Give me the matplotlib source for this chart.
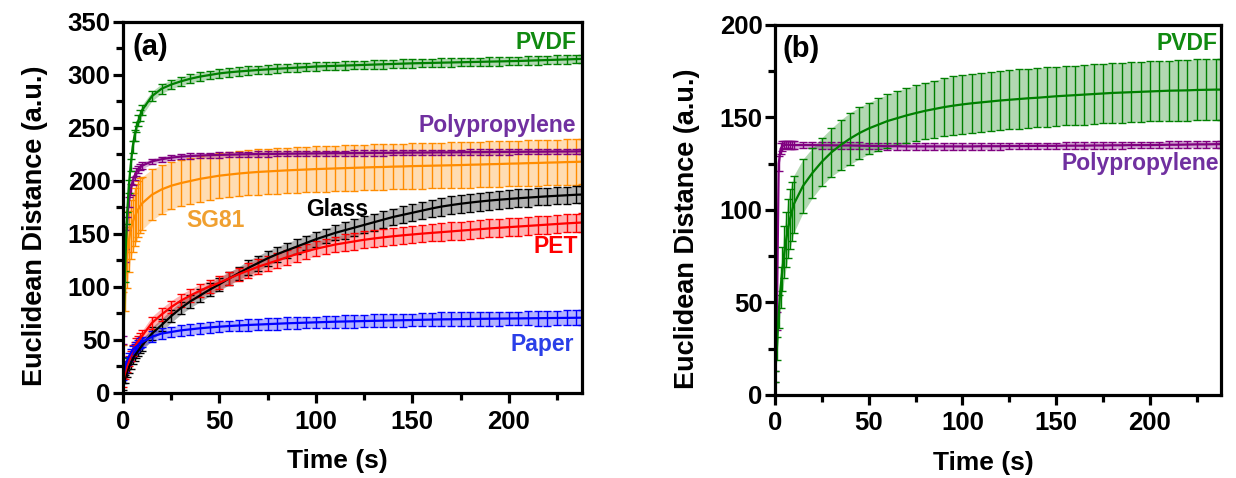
import matplotlib
matplotlib.use("Agg")
import numpy as np
import matplotlib.pyplot as plt
from matplotlib.ticker import MultipleLocator

plt.rcParams['font.family'] = ['Liberation Sans', 'DejaVu Sans']
plt.rcParams['font.weight'] = 'bold'

# time points (s)
t = [0, 1, 2, 3, 4, 5, 6, 7, 8, 9, 10,
     15, 20, 25, 30, 35, 40, 45, 50, 55, 60,
     65, 70, 75, 80, 85, 90, 95, 100, 105, 110,
     115, 120, 125, 130, 135, 140, 145, 150, 155, 160,
     165, 170, 175, 180, 185, 190, 195, 200, 205, 210,
     215, 220, 225, 230, 235, 238]

# ---- panel (a) ----
pvdf_a = [30, 110, 165, 195, 215, 232, 243, 251, 257, 262, 267,
          280, 287, 291, 294, 296.5, 298.5, 300, 301.5, 302.5, 303.3,
          304, 304.7, 305.3, 305.9, 306.4, 306.9, 307.4, 308, 308.3, 308.6,
          308.9, 309.2, 309.5, 309.8, 310.1, 310.4, 310.7, 311, 311.2, 311.4,
          311.6, 311.8, 312, 312.2, 312.4, 312.6, 312.8, 313, 313.2, 313.5,
          313.8, 314.1, 314.4, 314.7, 315, 315.2]
pvdf_a_err = [3, 5, 6, 6, 6, 6, 5.5, 5, 5, 5, 5,
              4.5, 4.5, 4, 4, 4, 4, 4, 4, 4, 4,
              4, 4, 4, 4, 4, 4, 4, 4, 4, 4,
              4, 4, 4, 4, 4, 4, 4, 4, 4, 4,
              4, 4, 4, 4, 4, 4, 4, 4, 4, 4,
              4, 4, 4, 4, 4, 4]

pp_a = [50, 130, 160, 180, 192, 200, 205, 208.5, 211, 213, 214.5,
        218.5, 220.5, 222, 223, 223.5, 224, 224.3, 224.6, 224.8, 225,
        225.2, 225.4, 225.5, 225.6, 225.7, 225.8, 225.9, 226, 226.1, 226.2,
        226.2, 226.3, 226.4, 226.5, 226.5, 226.6, 226.7, 226.8, 226.8, 226.9,
        227, 227, 227.1, 227.2, 227.2, 227.3, 227.4, 227.4, 227.5, 227.6,
        227.6, 227.7, 227.8, 227.8, 227.9, 228]
pp_a_err = [4, 6, 6, 5, 5, 4, 4, 3.5, 3.5, 3, 3,
            2.5, 2.5, 2.5, 2.5, 2.5, 2.5, 2.5, 2.5, 2.5, 2.5,
            2.5, 2.5, 2.5, 2.5, 2.5, 2.5, 2.5, 2.5, 2.5, 2.5,
            2.5, 2.5, 2.5, 2.5, 2.5, 2.5, 2.5, 2.5, 2.5, 2.5,
            2.5, 2.5, 2.5, 2.5, 2.5, 2.5, 2.5, 2.5, 2.5, 2.5,
            2.5, 2.5, 2.5, 2.5, 2.5, 2.5]

sg81_a = [70, 105, 128, 143, 154, 161, 166, 170, 173.5, 176.5, 179,
          187, 192, 195.5, 198, 200, 202, 203.5, 205, 206, 207,
          207.8, 208.5, 209, 209.5, 210, 210.4, 210.8, 211.2, 211.5, 211.8,
          212.1, 212.4, 212.7, 213, 213.2, 213.5, 213.7, 214, 214.2, 214.4,
          214.6, 214.8, 215, 215.3, 215.5, 215.8, 216, 216.3, 216.5, 216.8,
          217, 217.3, 217.5, 217.8, 218, 218.2]
sg81_a_err = [25, 28, 29, 29, 28, 28, 27, 27, 26, 26, 25,
              24, 23, 22, 21.5, 21.5, 21.5, 21.5, 21.5, 21.5, 21.5,
              21.5, 21.5, 21.5, 21.5, 21.5, 21.5, 21.5, 21.5, 21.5, 21.5,
              21.5, 21.5, 21.5, 21.5, 21.5, 21.5, 21.5, 21.5, 21.5, 21.5,
              21.5, 21.5, 21.5, 21.5, 21.5, 21.5, 21.5, 21.5, 21.5, 21.5,
              21.5, 21.5, 21.5, 21.5, 21.5, 21.5]

glass_a = [6, 13, 19, 24, 28, 32, 35, 37.5, 40, 42.5, 45,
           56, 64, 72.5, 80, 86.5, 92, 97.5, 102.5, 108, 113,
           118, 122.5, 127, 131, 134.5, 138, 141.5, 145, 148, 151,
           153.5, 156, 158.5, 161, 163.5, 166, 168, 170, 172, 174,
           175.8, 177.2, 178.5, 179.6, 180.6, 181.5, 182.3, 183, 183.7, 184.3,
           184.9, 185.5, 186, 186.5, 187, 187.2]
glass_a_err = [3, 4, 4, 5, 5, 5, 5, 5, 5, 5, 5,
               6, 6, 6, 6, 6, 6, 6, 6, 6, 6,
               7, 7, 7, 7, 7, 7, 7, 7, 7, 7,
               8, 8, 8, 8, 8, 8, 8, 8, 8, 8,
               8.5, 8.5, 8.5, 8.5, 8.5, 8.5, 8.5, 8.5, 8.5, 8.5,
               8, 8, 8, 8, 8, 8]

pet_a = [10, 18, 25, 30, 35, 40, 43.5, 46.5, 49, 51.5, 54,
         66, 74, 81, 87, 92, 96.5, 100.5, 104, 108, 112,
         115.5, 119, 122, 125, 128, 131, 133.5, 136, 138, 140,
         141.5, 143, 144.5, 145.7, 146.8, 147.8, 148.7, 149.5, 150.3, 151,
         151.7, 152.4, 153.1, 153.8, 154.5, 155.2, 155.8, 156.4, 157, 157.6,
         158.2, 158.8, 159.4, 160, 160.5, 160.8]
pet_a_err = [4, 5, 5, 5, 5, 5, 5, 5, 5, 5, 5,
             6, 6, 6, 6, 6, 6, 6, 6, 6, 6,
             7, 7, 7, 7, 7, 7, 7, 7, 7, 7,
             8, 8, 8, 8, 8, 8, 8, 8, 8, 8,
             8.5, 8.5, 8.5, 8.5, 8.5, 8.5, 8.5, 8.5, 8.5, 8.5,
             8.5, 8.5, 8.5, 8.5, 8.5, 8.5]

paper_a = [15, 24, 30, 34, 37.5, 40.5, 42.5, 44, 45.5, 47, 48,
           53, 56, 57.5, 59, 60, 61, 61.8, 62.5, 63.1, 63.6,
           64.1, 64.5, 64.9, 65.3, 65.7, 66, 66.3, 66.6, 66.9, 67.2,
           67.4, 67.6, 67.8, 68, 68.2, 68.4, 68.6, 68.8, 69, 69.2,
           69.4, 69.5, 69.6, 69.8, 69.9, 70, 70.1, 70.2, 70.3, 70.4,
           70.5, 70.6, 70.7, 70.8, 70.9, 71]
paper_a_err = [3, 4, 4, 4, 4, 4, 4, 4, 4.5, 4.5, 4.5,
               5, 5, 5, 5, 5, 5, 5, 5, 5, 5,
               5.5, 5.5, 5.5, 5.5, 5.5, 5.5, 5.5, 5.5, 5.5, 5.5,
               6, 6, 6, 6, 6, 6, 6, 6, 6, 6,
               6.5, 6.5, 6.5, 6.5, 6.5, 6.5, 6.5, 6.5, 6.5, 6.5,
               7, 7, 7, 7, 7, 7]

# ---- panel (b) ----
pvdf_b = [10, 25, 45, 58, 68, 77, 84, 90, 95, 99, 103,
          113, 120, 126, 131, 135, 138.5, 141.5, 144, 146, 148,
          149.5, 151, 152.3, 153.5, 154.5, 155.5, 156.3, 157, 157.6, 158.1,
          158.6, 159.1, 159.5, 159.9, 160.3, 160.6, 161, 161.4, 161.7, 162,
          162.3, 162.6, 162.9, 163.2, 163.4, 163.6, 163.8, 164, 164.2, 164.4,
          164.5, 164.6, 164.8, 164.9, 165, 165]
pvdf_b_err = [3, 6, 9, 11, 12, 14, 15, 16, 16, 16, 15.5,
              14.5, 13.5, 13, 13, 13.5, 14, 14, 14, 14.2, 14.4,
              14.6, 14.8, 15, 15.2, 15.4, 15.6, 15.8, 16, 16, 16,
              16, 16, 16, 16, 16, 16, 16, 16, 16, 16,
              16.2, 16.2, 16.2, 16.2, 16.2, 16.2, 16.2, 16.2, 16.2, 16.2,
              16.5, 16.5, 16.5, 16.5, 16.5, 16.5]

pp_b = [10, 40, 125, 133, 134.5, 135, 135.2, 135.2, 135.1, 135.1, 135,
        135, 135, 134.9, 134.9, 134.8, 134.8, 134.7, 134.6, 134.5, 134.4,
        134.4, 134.3, 134.3, 134.3, 134.3, 134.3, 134.3, 134.3, 134.3, 134.4,
        134.4, 134.4, 134.5, 134.5, 134.5, 134.6, 134.6, 134.6, 134.7, 134.7,
        134.7, 134.8, 134.8, 134.9, 134.9, 135, 135, 135, 135.1, 135.2,
        135.2, 135.3, 135.4, 135.4, 135.5, 135.5]
pp_b_err = [3, 5, 4, 3, 2.5, 2, 2, 2, 2, 2, 2,
            1.8, 1.8, 1.8, 1.8, 1.8, 1.8, 1.8, 1.8, 1.8, 1.8,
            1.8, 1.8, 1.8, 1.8, 1.8, 1.8, 1.8, 1.8, 1.8, 1.8,
            1.8, 1.8, 1.8, 1.8, 1.8, 1.8, 1.8, 1.8, 1.8, 1.8,
            1.8, 1.8, 1.8, 1.8, 1.8, 1.8, 1.8, 1.8, 1.8, 1.8,
            1.8, 1.8, 1.8, 1.8, 1.8, 1.8]

GREEN = '#008000'
PURPLE = '#800080'
ORANGE = '#FF8C00'
BLACK = '#000000'
RED = '#FF0000'
BLUE = '#0000FF'


def draw_series(ax, y, err, color):
    y = np.asarray(y, float)
    err = np.asarray(err, float)
    ax.fill_between(t, y - err, y + err, color=color, alpha=0.3, lw=0)
    ax.errorbar(t, y, yerr=err, color=color, lw=1.6, elinewidth=1.0,
                capsize=3, capthick=1.0)


def style_axes(ax, ymax):
    ax.set_xlim(0, 238)
    ax.set_ylim(0, ymax)
    ax.xaxis.set_major_locator(MultipleLocator(50))
    ax.xaxis.set_minor_locator(MultipleLocator(25))
    ax.yaxis.set_major_locator(MultipleLocator(50))
    ax.yaxis.set_minor_locator(MultipleLocator(25))
    for s in ax.spines.values():
        s.set_linewidth(2.3)
    ax.tick_params(which='major', length=7, width=2.3, labelsize=18.5)
    ax.tick_params(which='minor', length=5, width=2.3)
    ax.tick_params(axis='x', which='major', pad=5)
    ax.tick_params(axis='y', which='major', pad=2)
    ax.tick_params(top=False, right=False, which='both')
    ax.set_xlabel('Time (s)', fontsize=19, fontweight='bold')
    ax.set_ylabel('Euclidean Distance (a.u.)', fontsize=19.5, fontweight='bold', labelpad=14)
    ax.xaxis.set_label_coords(0.467, -0.152)
    ax.yaxis.label.set_y(0.45)


fig = plt.figure(figsize=(12.36, 4.78), dpi=100)
ax1 = fig.add_axes([0.0995, 0.178, 0.3714, 0.776])
ax2 = fig.add_axes([0.627, 0.174, 0.361, 0.774])

draw_series(ax1, sg81_a, sg81_a_err, ORANGE)
draw_series(ax1, pp_a, pp_a_err, PURPLE)
draw_series(ax1, glass_a, glass_a_err, BLACK)
draw_series(ax1, pet_a, pet_a_err, RED)
draw_series(ax1, paper_a, paper_a_err, BLUE)
draw_series(ax1, pvdf_a, pvdf_a_err, GREEN)
style_axes(ax1, 350)

ax1.text(5, 326, '(a)', fontsize=21, fontweight='bold', va='center')
ax1.text(235, 331, 'PVDF', color='#108a10', fontsize=16.5, fontweight='bold', ha='right', va='center')
ax1.text(235, 252, 'Polypropylene', color='#7030A0', fontsize=16.5, fontweight='bold', ha='right', va='center')
ax1.text(48, 163, 'SG81', color='#F0A030', fontsize=16.5, fontweight='bold', ha='center', va='center')
ax1.text(111, 173, 'Glass', color='black', fontsize=16.5, fontweight='bold', ha='center', va='center')
ax1.text(236, 138, 'PET', color='red', fontsize=16.5, fontweight='bold', ha='right', va='center')
ax1.text(234, 46, 'Paper', color='#2A3FE8', fontsize=16.5, fontweight='bold', ha='right', va='center')

draw_series(ax2, pp_b, pp_b_err, PURPLE)
draw_series(ax2, pvdf_b, pvdf_b_err, GREEN)
style_axes(ax2, 200)

ax2.text(4, 187, '(b)', fontsize=21, fontweight='bold', va='center')
ax2.text(236, 190, 'PVDF', color='#108a10', fontsize=16.5, fontweight='bold', ha='right', va='center')
ax2.text(237, 125, 'Polypropylene', color='#7030A0', fontsize=16.5, fontweight='bold', ha='right', va='center')

fig.savefig('out.png', dpi=100)
